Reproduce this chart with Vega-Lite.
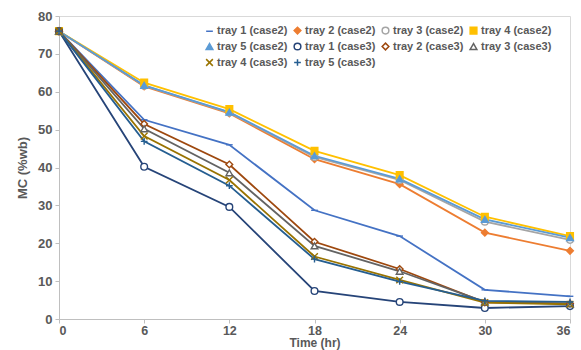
{
  "$schema": "https://vega.github.io/schema/vega-lite/v6.json",
  "width": 511,
  "height": 303,
  "autosize": "none",
  "padding": {"left": 59, "top": 16, "right": 11, "bottom": 31},
  "background": "white",
  "config": {
    "view": {"stroke": "#d9d9d9", "strokeWidth": 1},
    "font": "Liberation Sans",
    "axis": {
      "grid": false,
      "domainColor": "#bfbfbf",
      "tickColor": "#bfbfbf",
      "tickSize": 4,
      "labelColor": "#595959",
      "labelFont": "Liberation Sans",
      "labelFontWeight": "bold",
      "labelFontSize": 13,
      "titleColor": "#595959",
      "titleFont": "Liberation Sans",
      "titleFontWeight": "bold",
      "titleFontSize": 13
    },
    "legend": {
      "labelFont": "Liberation Sans",
      "labelFontWeight": "bold",
      "labelFontSize": 11,
      "labelColor": "#595959"
    }
  },
  "data": {
    "values": [
      {"series": "tray 1 (case2)", "time": 0, "mc": 76},
      {"series": "tray 1 (case2)", "time": 6, "mc": 52.6},
      {"series": "tray 1 (case2)", "time": 12, "mc": 46},
      {"series": "tray 1 (case2)", "time": 18, "mc": 28.7},
      {"series": "tray 1 (case2)", "time": 24, "mc": 21.9},
      {"series": "tray 1 (case2)", "time": 30, "mc": 7.7},
      {"series": "tray 1 (case2)", "time": 36, "mc": 6.0},
      {"series": "tray 2 (case2)", "time": 0, "mc": 76},
      {"series": "tray 2 (case2)", "time": 6, "mc": 61.4},
      {"series": "tray 2 (case2)", "time": 12, "mc": 54.3},
      {"series": "tray 2 (case2)", "time": 18, "mc": 42.2},
      {"series": "tray 2 (case2)", "time": 24, "mc": 35.6},
      {"series": "tray 2 (case2)", "time": 30, "mc": 22.8},
      {"series": "tray 2 (case2)", "time": 36, "mc": 18.0},
      {"series": "tray 3 (case2)", "time": 0, "mc": 76},
      {"series": "tray 3 (case2)", "time": 6, "mc": 61.6},
      {"series": "tray 3 (case2)", "time": 12, "mc": 54.5},
      {"series": "tray 3 (case2)", "time": 18, "mc": 42.8},
      {"series": "tray 3 (case2)", "time": 24, "mc": 36.7},
      {"series": "tray 3 (case2)", "time": 30, "mc": 25.7},
      {"series": "tray 3 (case2)", "time": 36, "mc": 20.9},
      {"series": "tray 4 (case2)", "time": 0, "mc": 76},
      {"series": "tray 4 (case2)", "time": 6, "mc": 62.4},
      {"series": "tray 4 (case2)", "time": 12, "mc": 55.4},
      {"series": "tray 4 (case2)", "time": 18, "mc": 44.4},
      {"series": "tray 4 (case2)", "time": 24, "mc": 38.0},
      {"series": "tray 4 (case2)", "time": 30, "mc": 27.0},
      {"series": "tray 4 (case2)", "time": 36, "mc": 21.9},
      {"series": "tray 5 (case2)", "time": 0, "mc": 76},
      {"series": "tray 5 (case2)", "time": 6, "mc": 61.7},
      {"series": "tray 5 (case2)", "time": 12, "mc": 54.6},
      {"series": "tray 5 (case2)", "time": 18, "mc": 43.1},
      {"series": "tray 5 (case2)", "time": 24, "mc": 37.0},
      {"series": "tray 5 (case2)", "time": 30, "mc": 26.3},
      {"series": "tray 5 (case2)", "time": 36, "mc": 21.5},
      {"series": "tray 1 (case3)", "time": 0, "mc": 76},
      {"series": "tray 1 (case3)", "time": 6, "mc": 40.2},
      {"series": "tray 1 (case3)", "time": 12, "mc": 29.6},
      {"series": "tray 1 (case3)", "time": 18, "mc": 7.4},
      {"series": "tray 1 (case3)", "time": 24, "mc": 4.5},
      {"series": "tray 1 (case3)", "time": 30, "mc": 2.9},
      {"series": "tray 1 (case3)", "time": 36, "mc": 3.4},
      {"series": "tray 2 (case3)", "time": 0, "mc": 76},
      {"series": "tray 2 (case3)", "time": 6, "mc": 51.5},
      {"series": "tray 2 (case3)", "time": 12, "mc": 40.8},
      {"series": "tray 2 (case3)", "time": 18, "mc": 20.4},
      {"series": "tray 2 (case3)", "time": 24, "mc": 13.2},
      {"series": "tray 2 (case3)", "time": 30, "mc": 4.4},
      {"series": "tray 2 (case3)", "time": 36, "mc": 4.1},
      {"series": "tray 3 (case3)", "time": 0, "mc": 76},
      {"series": "tray 3 (case3)", "time": 6, "mc": 50.2},
      {"series": "tray 3 (case3)", "time": 12, "mc": 38.6},
      {"series": "tray 3 (case3)", "time": 18, "mc": 19.3},
      {"series": "tray 3 (case3)", "time": 24, "mc": 12.6},
      {"series": "tray 3 (case3)", "time": 30, "mc": 4.5},
      {"series": "tray 3 (case3)", "time": 36, "mc": 4.0},
      {"series": "tray 4 (case3)", "time": 0, "mc": 76},
      {"series": "tray 4 (case3)", "time": 6, "mc": 48.3},
      {"series": "tray 4 (case3)", "time": 12, "mc": 36.7},
      {"series": "tray 4 (case3)", "time": 18, "mc": 16.5},
      {"series": "tray 4 (case3)", "time": 24, "mc": 10.3},
      {"series": "tray 4 (case3)", "time": 30, "mc": 4.3},
      {"series": "tray 4 (case3)", "time": 36, "mc": 3.9},
      {"series": "tray 5 (case3)", "time": 0, "mc": 76},
      {"series": "tray 5 (case3)", "time": 6, "mc": 46.9},
      {"series": "tray 5 (case3)", "time": 12, "mc": 35.2},
      {"series": "tray 5 (case3)", "time": 18, "mc": 15.8},
      {"series": "tray 5 (case3)", "time": 24, "mc": 9.9},
      {"series": "tray 5 (case3)", "time": 30, "mc": 4.8},
      {"series": "tray 5 (case3)", "time": 36, "mc": 4.5}
    ]
  },
  "encoding": {
    "x": {
      "field": "time", "type": "quantitative",
      "scale": {"domain": [0, 36], "nice": false},
      "axis": {"values": [0, 6, 12, 18, 24, 30, 36], "title": "Time (hr)", "titlePadding": 1, "labelPadding": 1, "labelFontSize": 12.5, "titleFontSize": 12}
    },
    "y": {
      "field": "mc", "type": "quantitative",
      "scale": {"domain": [0, 80], "nice": false},
      "axis": {"values": [0, 10, 20, 30, 40, 50, 60, 70, 80], "title": "MC (%wb)", "titlePadding": 8, "labelPadding": 3}
    },
    "stroke": {
      "field": "series", "type": "nominal", "title": null,
      "scale": {
        "domain": ["tray 1 (case2)", "tray 2 (case2)", "tray 3 (case2)", "tray 4 (case2)", "tray 5 (case2)", "tray 1 (case3)", "tray 2 (case3)", "tray 3 (case3)", "tray 4 (case3)", "tray 5 (case3)"],
        "range": ["#4472C4", "#ED7D31", "#A5A5A5", "#FFC000", "#5B9BD5", "#264478", "#9E480E", "#636363", "#997300", "#255E91"]
      },
      "legend": {
        "orient": "none", "direction": "horizontal", "legendX": 145, "legendY": 9, "columns": 4,
        "columnPadding": 3, "rowPadding": 3, "symbolSize": 45, "symbolStrokeWidth": 1.5,
        "labelOffset": 2
      }
    }
  },
  "layer": [
    {
      "mark": {"type": "line", "strokeWidth": 1.8}
    },
    {
      "mark": {"type": "point", "strokeWidth": 1.4, "size": 45, "opacity": 1},
      "encoding": {
        "fill": {
          "field": "series", "type": "nominal", "title": null,
          "scale": {
            "domain": ["tray 1 (case2)", "tray 2 (case2)", "tray 3 (case2)", "tray 4 (case2)", "tray 5 (case2)", "tray 1 (case3)", "tray 2 (case3)", "tray 3 (case3)", "tray 4 (case3)", "tray 5 (case3)"],
            "range": ["transparent", "#ED7D31", "white", "#FFC000", "#5B9BD5", "white", "white", "white", "transparent", "transparent"]
          }
        },
        "shape": {
          "field": "series", "type": "nominal", "title": null,
          "scale": {
            "domain": ["tray 1 (case2)", "tray 2 (case2)", "tray 3 (case2)", "tray 4 (case2)", "tray 5 (case2)", "tray 1 (case3)", "tray 2 (case3)", "tray 3 (case3)", "tray 4 (case3)", "tray 5 (case3)"],
            "range": ["M-1,0H1", "diamond", "circle", "square", "triangle-up", "circle", "diamond", "triangle-up", "M-1,-1L1,1M-1,1L1,-1", "M-1,0H1M0,-1V1"]
          }
        }
      }
    }
  ]
}
